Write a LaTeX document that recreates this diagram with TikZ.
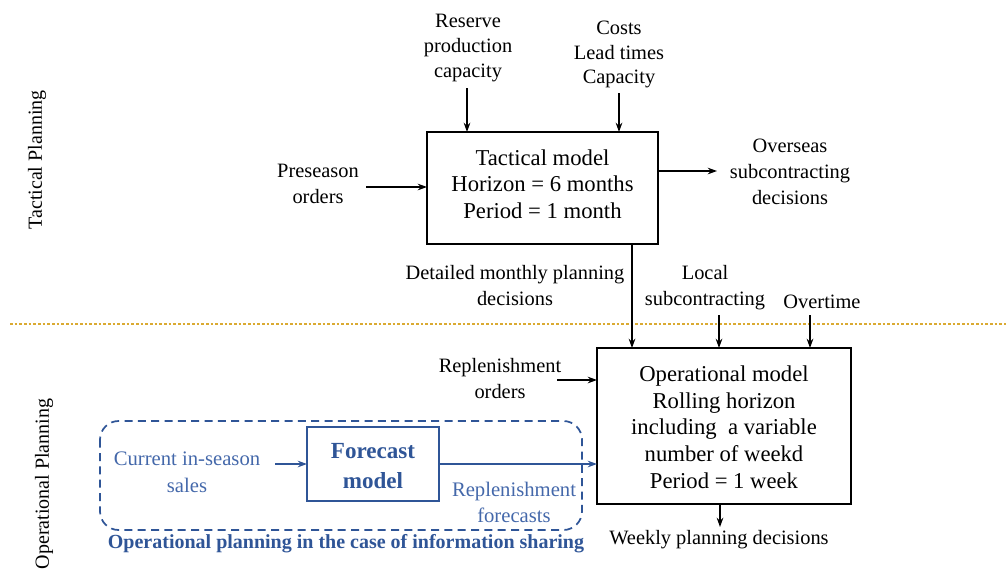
\documentclass[tikz,border=0pt]{standalone}
\usepackage{fontspec}
\setmainfont{Liberation Serif}
\usetikzlibrary{arrows.meta}
\definecolor{gold}{RGB}{218,170,50}
\definecolor{dblue}{RGB}{47,85,151}
\definecolor{tblue}{RGB}{68,104,170}
\begin{document}
\begin{tikzpicture}[x=0.75pt,y=-0.75pt,
  every node/.style={font=\fontsize{15.3}{19.5}\selectfont, align=center, inner sep=0pt},
  toplbl/.style={font=\fontsize{15.3}{18.5}\selectfont},
  boxtext/.style={font=\fontsize{17}{20}\selectfont},
  arr/.style={-{Stealth[length=7pt,width=5pt]}, line width=0.9pt},
  barr/.style={arr, draw=dblue, line width=1.1pt},
  blbl/.style={text=tblue, font=\fontsize{15.5}{20}\selectfont}]
\useasboundingbox (0,0) rectangle (1006,568);
% divider
\draw[gold, line width=1pt, dash pattern=on 2pt off 1.5pt] (10,324) -- (1006,324);
% side labels
\node[rotate=90, font=\fontsize{15}{18}\selectfont] (tp) at (37,160) {Tactical Planning};
\node[rotate=90, font=\fontsize{15}{18}\selectfont] (op) at (44,484) {Operational Planning};
% tactical model
\draw[line width=1.2pt] (427,132) rectangle (658,244);
\node[boxtext] (tactxt) at (542.5,184) {Tactical model\\Horizon = 6 months\\Period = 1 month};
\node[toplbl] (res) at (468,48) {Reserve\\production\\capacity};
\node[toplbl] (costs) at (619,54.5) {Costs\\Lead times\\Capacity};
\node (pre) at (318,184) {Preseason\\orders};
\node (over) at (790,171.5) {Overseas\\subcontracting\\decisions};
\coordinate (resA) at (467,88); \coordinate (resB) at (467,132);
\coordinate (cA) at (619,93); \coordinate (cB) at (619,132);
\coordinate (pA) at (366,187); \coordinate (pB) at (427,187);
\coordinate (oA) at (658,171); \coordinate (oB) at (717,171);
\draw[arr] (resA) -- (resB);
\draw[arr] (cA) -- (cB);
\draw[arr] (pA) -- (pB);
\draw[arr] (oA) -- (oB);
% link
\coordinate (dA) at (632,244); \coordinate (dB) at (632,348);
\draw[arr] (dA) -- (dB);
\node (det) at (515,286) {Detailed monthly planning\\decisions};
\node (loc) at (705,288) {Local\\subcontracting};
\node (ovt) at (822,302) {Overtime};
\coordinate (lA) at (719,315); \coordinate (lB) at (719,348);
\coordinate (vA) at (810,315); \coordinate (vB) at (810,348);
\draw[arr] (lA) -- (lB);
\draw[arr] (vA) -- (vB);
% operational model
\draw[line width=1.2pt] (597,348) rectangle (851,504);
\node[boxtext] (optxt) at (724,427) {Operational model\\Rolling horizon\\including\ \ a variable\\number of weekd\\Period = 1 week};
\node (rep) at (500,378.5) {Replenishment\\orders};
\coordinate (rA) at (557,380); \coordinate (rB) at (597,380);
\draw[arr] (rA) -- (rB);
\coordinate (wA) at (720,504); \coordinate (wB) at (720,527);
\draw[arr] (wA) -- (wB);
\node (week) at (719,539.5) {Weekly planning decisions};
% information sharing
\draw[dblue, line width=1.3pt, dash pattern=on 6pt off 4pt, rounded corners=14pt] (100,421) rectangle (582,530);
\node[blbl] (cur) at (187,472.5) {Current in-season\\sales};
\draw[dblue, line width=1.5pt] (307,427) rectangle (439,501);
\node[text=dblue, font=\fontsize{17.3}{23}\selectfont\bfseries] (fc) at (373,466) {Forecast\\model};
\coordinate (cA2) at (275,464); \coordinate (cB2) at (307,464);
\coordinate (fA) at (439,464); \coordinate (fB) at (597,464);
\draw[barr] (cA2) -- (cB2);
\draw[barr] (fA) -- (fB);
\node[blbl] (rf) at (514,502.5) {Replenishment\\forecasts};
\node[text=dblue, font=\fontsize{15}{16}\selectfont\bfseries] (ops) at (346,544) {Operational planning in the case of information sharing};
\end{tikzpicture}
\end{document}
